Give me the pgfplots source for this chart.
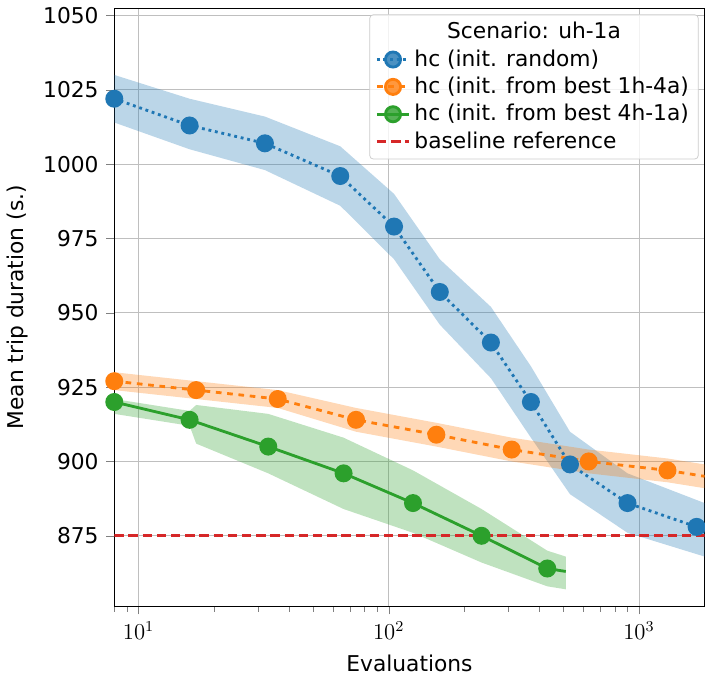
\documentclass[border=0pt]{standalone}
\usepackage{pgfplots}
\pgfplotsset{compat=1.18}
\usepgfplotslibrary{fillbetween}
\usepackage{fontspec}
\setmainfont{DejaVu Sans}
\definecolor{cb}{HTML}{1F77B4}
\definecolor{co}{HTML}{FF7F0E}
\definecolor{cg}{HTML}{2CA02C}
\definecolor{cr}{HTML}{D62728}
\begin{document}
\fontsize{11.5}{14}\selectfont
\begin{tikzpicture}
\begin{axis}[
  xmode=log, scale only axis, width=312pt, height=316pt,
  xmin=8, xmax=1830, ymin=851.3, ymax=1052.4,
  ytick={875,900,...,1050},
  grid=major, major grid style={gray!50},
  xlabel={Evaluations}, ylabel={Mean trip duration (s.)},
  /pgf/number format/assume math mode=true,
  /pgf/number format/1000 sep={},
  tick label style={font=\fontsize{11.5}{14}\selectfont},
  label style={font=\fontsize{11.5}{14}\selectfont},
  legend style={at={(0.99,0.99)},anchor=north east,font=\fontsize{11.5}{14}\selectfont,draw=gray!40,rounded corners=2pt,fill=white,fill opacity=0.8,text opacity=1, cells={anchor=west}},
  legend cell align=left,
  tick align=outside, tick pos=left,
  clip marker paths=false,
]
\addplot[draw=none,name path=bu,forget plot] coordinates {(8,1030)(16,1022)(32,1016)(64,1006)(105,990)(160,968)(256,952)(370,932)(530,910)(900,896)(1830,886)};
\addplot[draw=none,name path=bl,forget plot] coordinates {(8,1014)(16,1005)(32,998)(64,986)(105,968)(160,946)(256,928)(370,908)(530,889)(900,876)(1830,868)};
\addplot[cb,opacity=0.3,forget plot] fill between[of=bu and bl];
\addplot[draw=none,name path=ou,forget plot] coordinates {(8,930)(17,927)(36,924)(74,918)(155,913)(310,908)(630,904)(1300,901)(1830,899)};
\addplot[draw=none,name path=ol,forget plot] coordinates {(8,924)(17,921)(36,918)(74,910)(155,905)(310,900)(630,896)(1300,893)(1830,891)};
\addplot[co,opacity=0.3,forget plot] fill between[of=ou and ol];
\addplot[draw=none,name path=gu,forget plot] coordinates {(8,921)(16,917)(17,919)(33,916)(66,908)(125,897)(235,884)(430,870)(510,868)};
\addplot[draw=none,name path=gl,forget plot] coordinates {(8,916)(16,912)(17,906)(33,896)(66,884)(125,876)(235,866)(430,858)(510,857)};
\addplot[cg,opacity=0.3,forget plot] fill between[of=gu and gl];
\addlegendimage{empty legend}\addlegendentry{\hspace{1.5em}Scenario: uh-1a}
\addplot[cb,dotted,line width=1.5pt,mark=*,mark size=4pt,mark options={solid}] coordinates {(8,1022)(16,1013)(32,1007)(64,996)(105,979)(160,957)(256,940)(370,920)(530,899)(900,886)(1700,878)};
\addlegendentry{hc (init. random)}
\addplot[co,dashed,line width=1.5pt,mark=*,mark size=4pt,mark options={solid}] coordinates {(8,927)(17,924)(36,921)(74,914)(155,909)(310,904)(630,900)(1300,897)};
\addlegendentry{hc (init. from best 1h-4a)}
\addplot[cg,line width=1.5pt,mark=*,mark size=4pt] coordinates {(8,920)(16,914)(33,905)(66,896)(125,886)(235,875)(430,864)};
\addlegendentry{hc (init. from best 4h-1a)}
\addplot[cr,dash pattern=on 5pt off 2.5pt,line width=1.6pt] coordinates {(8,875)(1830,875)};
\addlegendentry{baseline reference}
\addplot[cb,dotted,line width=1.5pt,forget plot] coordinates {(1700,878)(1830,876)};
\addplot[co,dashed,line width=1.5pt,forget plot] coordinates {(1300,897)(1830,895)};
\addplot[cg,line width=1.5pt,forget plot] coordinates {(430,864)(510,863)};
\end{axis}
\end{tikzpicture}
\end{document}
